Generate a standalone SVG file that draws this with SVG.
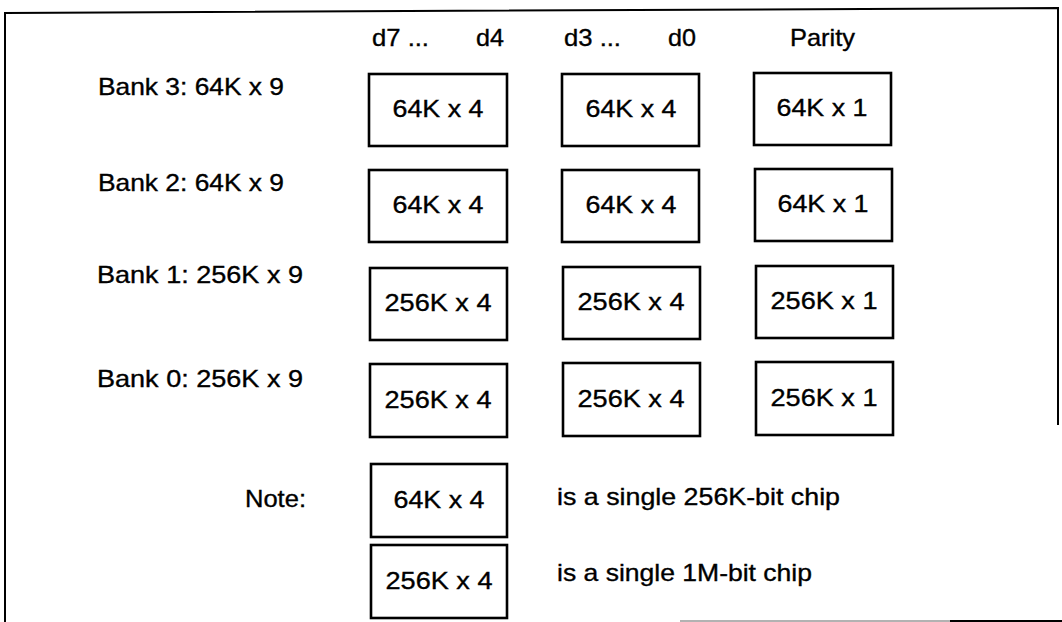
<svg xmlns="http://www.w3.org/2000/svg" width="1062" height="622" viewBox="0 0 1062 622">
<style>
text{font-family:"Liberation Sans",Arial,sans-serif;font-size:24px;fill:#000;stroke:#000;stroke-width:0.35}
.box{fill:#fff;stroke:#000;stroke-width:2.6}
.c{text-anchor:middle}
.frame{fill:none;stroke:#000;stroke-width:2}
</style>
<rect x="0" y="0" width="1062" height="622" fill="#fff"/>
<g id="frame">
<polyline class="frame" points="5,622 5,13 1058,8 1058,425"/>
<line x1="680" y1="621" x2="950" y2="621" stroke="#999" stroke-width="1.5"/>
<line x1="950" y1="621" x2="1062" y2="621" stroke="#000" stroke-width="2"/>
</g>
<g id="headers">
<text x="372" y="46" textLength="57" lengthAdjust="spacingAndGlyphs">d7 ...</text>
<text x="476" y="46" textLength="28" lengthAdjust="spacingAndGlyphs">d4</text>
<text x="564" y="46" textLength="57" lengthAdjust="spacingAndGlyphs">d3 ...</text>
<text x="668" y="46" textLength="28" lengthAdjust="spacingAndGlyphs">d0</text>
<text x="790" y="46" textLength="65" lengthAdjust="spacingAndGlyphs">Parity</text>
</g>
<g id="bank-labels">
<text x="98" y="95" textLength="186" lengthAdjust="spacingAndGlyphs">Bank 3: 64K x 9</text>
<text x="98" y="191" textLength="186" lengthAdjust="spacingAndGlyphs">Bank 2: 64K x 9</text>
<text x="97" y="283" textLength="206" lengthAdjust="spacingAndGlyphs">Bank 1: 256K x 9</text>
<text x="97" y="387" textLength="206" lengthAdjust="spacingAndGlyphs">Bank 0: 256K x 9</text>
<text x="245" y="507" textLength="61" lengthAdjust="spacingAndGlyphs">Note:</text>
<text x="557" y="505" textLength="283" lengthAdjust="spacingAndGlyphs">is a single 256K-bit chip</text>
<text x="557" y="581" textLength="255" lengthAdjust="spacingAndGlyphs">is a single 1M-bit chip</text>
</g>
<g id="bank3-hi"><rect class="box" x="369" y="74" width="138" height="72"/><text class="c" x="438" y="117" textLength="91" lengthAdjust="spacingAndGlyphs">64K x 4</text></g>
<g id="bank3-lo"><rect class="box" x="562" y="74" width="137" height="72"/><text class="c" x="631" y="117" textLength="91" lengthAdjust="spacingAndGlyphs">64K x 4</text></g>
<g id="bank3-par"><rect class="box" x="754" y="73" width="137" height="72"/><text class="c" x="822" y="116" textLength="91" lengthAdjust="spacingAndGlyphs">64K x 1</text></g>
<g id="bank2-hi"><rect class="box" x="369" y="170" width="138" height="72"/><text class="c" x="438" y="213" textLength="91" lengthAdjust="spacingAndGlyphs">64K x 4</text></g>
<g id="bank2-lo"><rect class="box" x="562" y="170" width="137" height="72"/><text class="c" x="631" y="213" textLength="91" lengthAdjust="spacingAndGlyphs">64K x 4</text></g>
<g id="bank2-par"><rect class="box" x="755" y="169" width="137" height="72"/><text class="c" x="823" y="212" textLength="91" lengthAdjust="spacingAndGlyphs">64K x 1</text></g>
<g id="bank1-hi"><rect class="box" x="370" y="268" width="137" height="72"/><text class="c" x="438" y="311" textLength="107" lengthAdjust="spacingAndGlyphs">256K x 4</text></g>
<g id="bank1-lo"><rect class="box" x="563" y="267" width="137" height="72"/><text class="c" x="631" y="310" textLength="107" lengthAdjust="spacingAndGlyphs">256K x 4</text></g>
<g id="bank1-par"><rect class="box" x="756" y="266" width="137" height="72"/><text class="c" x="824" y="309" textLength="107" lengthAdjust="spacingAndGlyphs">256K x 1</text></g>
<g id="bank0-hi"><rect class="box" x="370" y="364" width="137" height="73"/><text class="c" x="438" y="408" textLength="107" lengthAdjust="spacingAndGlyphs">256K x 4</text></g>
<g id="bank0-lo"><rect class="box" x="563" y="363" width="137" height="73"/><text class="c" x="631" y="407" textLength="107" lengthAdjust="spacingAndGlyphs">256K x 4</text></g>
<g id="bank0-par"><rect class="box" x="756" y="362" width="137" height="73"/><text class="c" x="824" y="406" textLength="107" lengthAdjust="spacingAndGlyphs">256K x 1</text></g>
<g id="note-64k"><rect class="box" x="371" y="464" width="136" height="73"/><text class="c" x="439" y="508" textLength="91" lengthAdjust="spacingAndGlyphs">64K x 4</text></g>
<g id="note-256k"><rect class="box" x="371" y="545" width="136" height="73"/><text class="c" x="439" y="589" textLength="107" lengthAdjust="spacingAndGlyphs">256K x 4</text></g>
<g id="connectors"/>
</svg>
